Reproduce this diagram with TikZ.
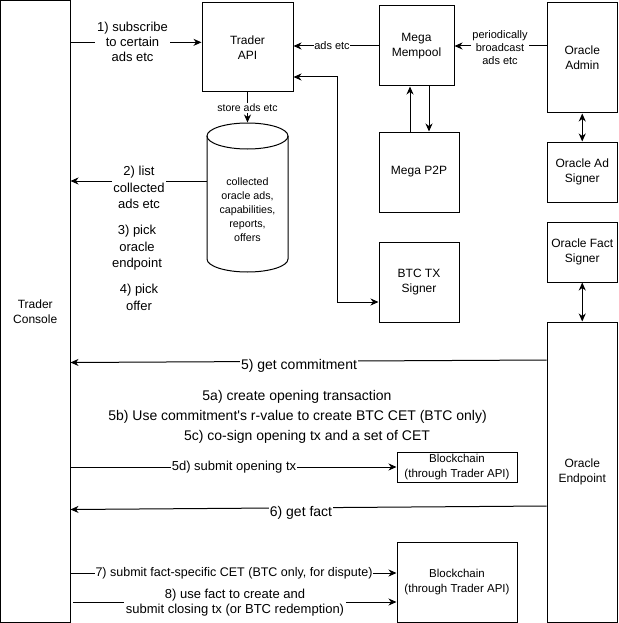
\documentclass[tikz,border=0pt]{standalone}
\usepackage{fontspec}
\setmainfont{Liberation Sans}
\usetikzlibrary{arrows.meta,calc}
\newcommand\fsz[2]{\fontsize{#1pt}{#2pt}\selectfont}
\begin{document}
\begin{tikzpicture}[x=1pt,y=-1pt,
  line width=1pt,
  box/.style={draw, line width=1pt, inner sep=0pt, align=center, font=\fsz{12}{15}},
  lab/.style={fill=white, align=center, inner sep=1pt},
  free/.style={align=center, inner sep=0pt},
  arr/.style={-{Stealth[length=8pt,width=7pt,inset=2.5pt]}},
  dbl/.style={{Stealth[length=8pt,width=7pt,inset=2.5pt]}-{Stealth[length=8pt,width=7pt,inset=2.5pt]}}]
\useasboundingbox (0,0) rectangle (618,623);

% boxes
\node[box, minimum width=69.5pt, minimum height=621.5pt] (console) at (35.25,311.25) {Trader\\Console};
\node[box, minimum width=91pt, minimum height=89.3pt] (api) at (247.5,47.35) {Trader\\API};
\node[box, minimum width=75pt, minimum height=80pt] (mempool) at (416.5,46) {Mega\\Mempool};
\node[box, minimum width=70.5pt, minimum height=110.3pt] (admin) at (582.25,57.85) {Oracle\\Admin};
\node[box, minimum width=80pt, minimum height=80pt] (p2p) at (419,172) {Mega P2P};
\node[box, minimum width=80pt, minimum height=80pt] (btc) at (419,282) {BTC TX\\Signer};
\node[box, minimum width=70.5pt, minimum height=60pt] (adsigner) at (582.25,172) {Oracle Ad\\Signer};
\node[box, minimum width=70.5pt, minimum height=60pt] (factsigner) at (582.25,252) {Oracle Fact\\Signer};
\node[box, minimum width=70.5pt, minimum height=300pt] (endpoint) at (582.25,472) {Oracle\\Endpoint};
\node[box, font=\fsz{11.5}{15}, minimum width=120pt, minimum height=30pt] (chain1) at (457,467) {Blockchain\\(through Trader API)};
\node[box, font=\fsz{11.5}{15}, minimum width=120pt, minimum height=80pt] (chain2) at (457,582) {Blockchain\\(through Trader API)};

% cylinder (database)
\draw (207,136) -- (207,259) arc[start angle=180, end angle=360, x radius=40.5pt, y radius=13pt] -- (288,136);
\draw (247.5,136) ellipse [x radius=40.5pt, y radius=13pt];
\node[minimum width=81pt, minimum height=149pt, inner sep=0pt] (db) at (247.5,197.5) {};
\node[free, font=\fsz{10.7}{14}] (dbtext) at (247.5,210) {collected\\oracle ads,\\capabilities,\\reports,\\offers};

% connectors
\coordinate (p1) at ([yshift=5pt]api.west);
\draw[arr] (console.east |- p1) -- (p1);
\node[lab, font=\fsz{13}{15.3}, inner sep=2pt] (l1) at (132.5,42) {1) subscribe\\to certain\\ads etc};

\draw[arr] (mempool.west) -- (api.east |- mempool.west);
\node[lab, font=\fsz{11}{13}, inner sep=0.5pt] (lads) at (332,46) {ads etc};

\draw[arr] (admin.west |- mempool.east) -- (mempool.east);
\node[lab, font=\fsz{11}{13}, inner sep=1.5pt] (lper) at (500,47.5) {periodically\\broadcast\\ads etc};

\coordinate (bend) at (337,77);
\draw[dbl] (api.east |- bend) -- (bend) |- ([yshift=-20pt]btc.west);

\coordinate (u1) at ([xshift=-9pt]p2p.north);
\draw[arr] (u1) -- (u1 |- mempool.south);
\coordinate (d1) at ([xshift=12.5pt]mempool.south);
\draw[arr] (d1) -- (d1 |- p2p.north);

\draw[dbl] (admin.south) -- (adsigner.north);
\draw[dbl] (factsigner.south) -- (endpoint.north);

\draw[arr] (api.south) -- (db.north);
\node[lab, font=\fsz{10.5}{12}, inner sep=1pt] (lstore) at (247.5,108) {store ads etc};

\coordinate (a2) at ([yshift=16.5pt]db.west);
\draw[arr] (a2) -- (console.east |- a2);
\node[lab, font=\fsz{13}{16.5}, inner sep=1.5pt] (l2) at (139,187.5) {2) list\\collected\\ads etc};
\node[free, font=\fsz{13}{16.5}] (l3) at (137,248) {3) pick\\oracle\\endpoint};
\node[free, font=\fsz{13}{16.5}] (l4) at (139,297.5) {4) pick\\offer};

\coordinate (e5) at ($(endpoint.west)+(0,-112)$);
\coordinate (c5) at ($(console.east |- endpoint.west)+(0,-109.5)$);
\draw[arr] (e5) -- (c5);
\node[lab, font=\fsz{14}{16}] (l5) at (299,365.5) {5) get commitment};

\node[free, font=\fsz{14}{16}] (l5a) at (297,397) {5a) create opening transaction};
\node[free, font=\fsz{14}{16}] (l5b) at (297.5,417) {5b) Use commitment\textquotesingle s r-value to create BTC CET (BTC only)};
\node[free, font=\fsz{14}{16}] (l5c) at (307,437) {5c) co-sign opening tx and a set of CET};

\draw[arr] (console.east |- chain1.west) -- (chain1.west);
\node[lab, font=\fsz{13}{15}, inner sep=0.5pt] (l5d) at (234,467) {5d) submit opening tx};

\coordinate (e6) at ($(endpoint.west)+(0,34)$);
\coordinate (c6) at ($(console.east |- endpoint.west)+(0,37.5)$);
\draw[arr] (e6) -- (c6);
\node[lab, font=\fsz{14}{16}] (l6) at (301,512.5) {6) get fact};

\coordinate (c7) at ($(chain2.west)+(0,-9)$);
\draw[arr] (console.east |- c7) -- (c7);
\node[lab, font=\fsz{12.5}{15}, inner sep=0.5pt] (l7) at (234,573) {7) submit fact-specific CET (BTC only, for dispute)};

\coordinate (c8) at ($(chain2.west)+(0,20)$);
\draw[arr] ($(console.east |- c8)+(2.5,0)$) -- (c8);
\node[lab, font=\fsz{13}{15}, inner sep=2pt] (l8) at (235,602.5) {8) use fact to create and\\submit closing tx (or BTC redemption)};
\end{tikzpicture}
\end{document}
